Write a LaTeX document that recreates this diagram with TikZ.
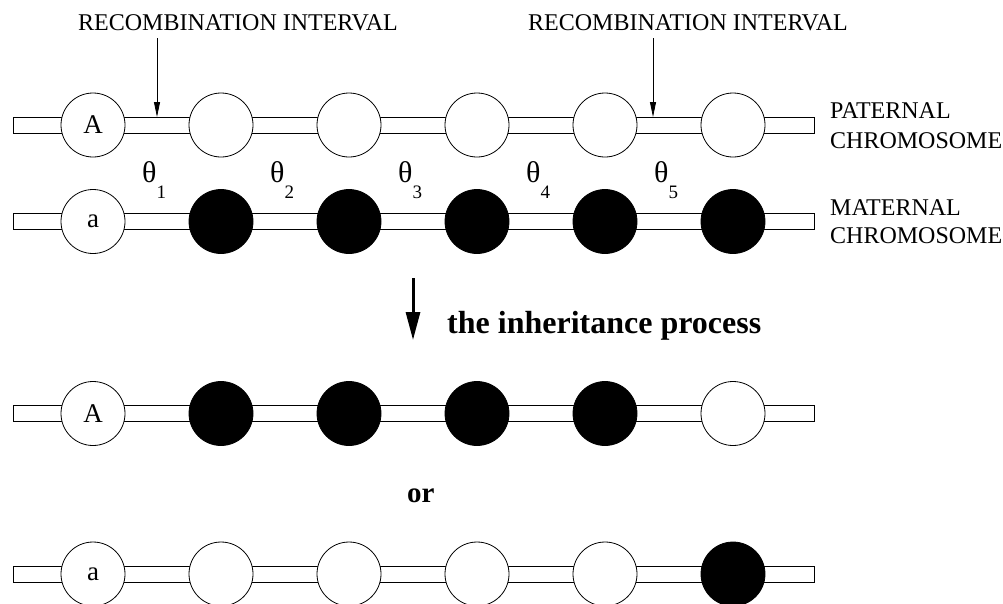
\documentclass[tikz,border=0pt]{standalone}
\usepackage{fontspec}
\setmainfont{Liberation Serif}
\usetikzlibrary{arrows.meta}

\tikzset{
  chrom/.style={draw, fill=white, line width=0.8pt},
  locus/.style={circle, draw, line width=0.8pt, fill=white, minimum size=64pt,
    inner sep=0pt, font=\fontsize{27}{27}\selectfont},
  dark/.style={locus, fill=black},
  caption/.style={font=\fontsize{24}{28}\selectfont, inner sep=0pt, anchor=base west},
  thetalbl/.style={font=\fontsize{30}{30}\selectfont, inner sep=0pt, anchor=base west},
  pointer/.style={-{Triangle[length=15pt,width=6pt]}, line width=0.8pt},
  bigarrow/.style={-{Triangle[length=28pt,width=14pt]}, line width=3pt},
  heading/.style={font=\bfseries\fontsize{32}{32}\selectfont, inner sep=0pt, anchor=base west},
}

% one chromosome: bar plus six loci
\newcommand\geneRow[3]{%
  \draw[chrom] (13,{#2-8}) rectangle (814,{#2+8});
  \foreach \s/\t [count=\i] in {#3} {
    \node[\s] (#1\i) at ({93+128*(\i-1)},#2) {\t};
  }%
}

\begin{document}
\begin{tikzpicture}[x=1pt,y=-1pt]
\useasboundingbox (0,0) rectangle (1003,603);

% parental chromosomes
\geneRow{p}{125}{locus/A,locus/{},locus/{},locus/{},locus/{},locus/{}}
\geneRow{m}{221.5}{locus/a,dark/{},dark/{},dark/{},dark/{},dark/{}}

% offspring chromosomes
\geneRow{x}{413.5}{locus/A,dark/{},dark/{},dark/{},dark/{},locus/{}}
\geneRow{y}{574}{locus/a,locus/{},locus/{},locus/{},locus/{},dark/{}}

% recombination intervals
\node[caption] (ri1) at (78,30) {RECOMBINATION INTERVAL};
\node[caption] (ri2) at (528,30) {RECOMBINATION INTERVAL};
\coordinate (ri1t) at (157,38);
\coordinate (ri1h) at (157,117);
\coordinate (ri2t) at (653,38);
\coordinate (ri2h) at (653,117);
\draw[pointer] (ri1t) -- (ri1h);
\draw[pointer] (ri2t) -- (ri2h);

% chromosome names
\node[caption] (pn1) at (830,118) {PATERNAL};
\node[caption] (pn2) at (830,148) {CHROMOSOME};
\node[caption] (mn1) at (830,215) {MATERNAL};
\node[caption] (mn2) at (830,243) {CHROMOSOME};

% recombination fractions
\foreach \i in {1,...,5} {
  \node[thetalbl] (th\i) at ({142+128*(\i-1)},182)
    {θ\raisebox{-16pt}{\fontsize{19}{19}\selectfont\i}};
}

% inheritance
\coordinate (ia) at (413,278);
\coordinate (ib) at (413,340);
\draw[bigarrow] (ia) -- (ib);
\node[heading] (proc) at (447,333) {the inheritance process};
\node[heading, font=\bfseries\fontsize{29}{29}\selectfont] (alt) at (407,502) {or};
\end{tikzpicture}
\end{document}
